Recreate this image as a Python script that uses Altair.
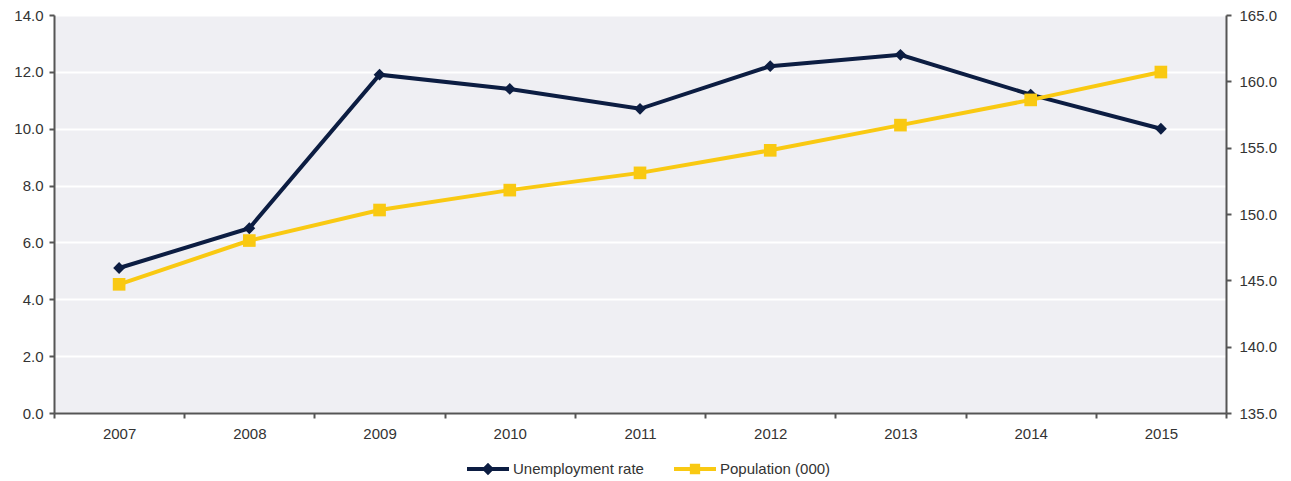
import altair as alt
import pandas as pd

years = ["2007", "2008", "2009", "2010", "2011", "2012", "2013", "2014", "2015"]
unemployment = [5.1, 6.5, 11.9, 11.4, 10.7, 12.2, 12.6, 11.2, 10.0]
population = [144.7, 148.0, 150.3, 151.8, 153.1, 154.8, 156.7, 158.6, 160.7]
left_ticks = [0, 2, 4, 6, 8, 10, 12, 14]
right_ticks = [135, 140, 145, 150, 155, 160, 165]

NAVY = "#0c1d42"
YELLOW = "#f9c912"
AXIS = "#555555"
FONT = "Liberation Sans"

df = pd.DataFrame({"year": years, "unemp": unemployment, "pop": population})

x = alt.X(
    "year:N",
    bandPosition=0.5,
    scale=alt.Scale(type="band", paddingInner=0, paddingOuter=0),
    axis=alt.Axis(
        title=None, labelAngle=0, tickBand="extent", domainColor=AXIS, domainWidth=2,
        tickColor=AXIS, tickWidth=2, tickSize=5, labelPadding=8, labelFont=FONT,
        labelFontSize=15, labelColor="#333333", grid=False,
    ),
)

diamond_path = "M-1,0H1M0,-0.16L0.16,0L0,0.16L-0.16,0Z"
square_path = "M-1,0H1M-0.15,-0.15H0.15V0.15H-0.15Z"

unemp = (
    alt.Chart(df)
    .transform_calculate(series="'Unemployment rate'")
    .mark_line(strokeWidth=4, point=alt.OverlayMarkDef(shape="diamond", size=140, filled=True))
    .encode(
        x=x,
        y=alt.Y(
            "unemp:Q",
            scale=alt.Scale(domain=[0, 14]),
            axis=alt.Axis(
                title=None, values=left_ticks, format=".1f", grid=True, gridColor="white",
                gridWidth=2, domainColor=AXIS, domainWidth=2, tickColor=AXIS, tickWidth=2,
                tickSize=5, labelPadding=6, labelFont=FONT, labelFontSize=15,
                labelColor="#333333",
            ),
        ),
        color=alt.Color(
            "series:N",
            scale=alt.Scale(domain=["Unemployment rate"], range=[NAVY]),
            legend=alt.Legend(
                title=None, orient="none", legendX=411, legendY=431, direction="horizontal",
                symbolType=diamond_path, symbolSize=1764, symbolStrokeWidth=4,
                symbolFillColor=NAVY, labelFont=FONT, labelFontSize=15, labelColor="#333333",
                labelOffset=2, padding=0,
            ),
        ),
    )
)

popl = (
    alt.Chart(df)
    .transform_calculate(series="'Population (000)'")
    .mark_line(strokeWidth=4, point=alt.OverlayMarkDef(shape="square", size=160, filled=True))
    .encode(
        x=x,
        y=alt.Y(
            "pop:Q",
            scale=alt.Scale(domain=[135, 165], zero=False),
            axis=alt.Axis(
                title=None, orient="right", values=right_ticks, format=".1f", grid=False,
                domainColor=AXIS, domainWidth=2, tickColor=AXIS, tickWidth=2, tickSize=5,
                labelPadding=8, labelFont=FONT, labelFontSize=15, labelColor="#333333",
            ),
        ),
        color=alt.Color(
            "series:N",
            scale=alt.Scale(domain=["Population (000)"], range=[YELLOW]),
            legend=alt.Legend(
                title=None, orient="none", legendX=618, legendY=431, direction="horizontal",
                symbolType=square_path, symbolSize=1764, symbolStrokeWidth=4,
                symbolFillColor=YELLOW, labelFont=FONT, labelFontSize=15, labelColor="#333333",
                labelOffset=2, padding=0,
            ),
        ),
    )
)

chart = (
    alt.layer(unemp, popl)
    .resolve_scale(y="independent", color="independent")
    .properties(
        width=1172,
        height=398,
        padding={"left": 46, "top": 7, "right": 57, "bottom": 66},
        autosize=alt.AutoSizeParams(type="none"),
    )
    .configure_view(fill="#efeff3", stroke=None)
)

chart.save("out.html", embed_options={"renderer": "svg", "actions": False})
